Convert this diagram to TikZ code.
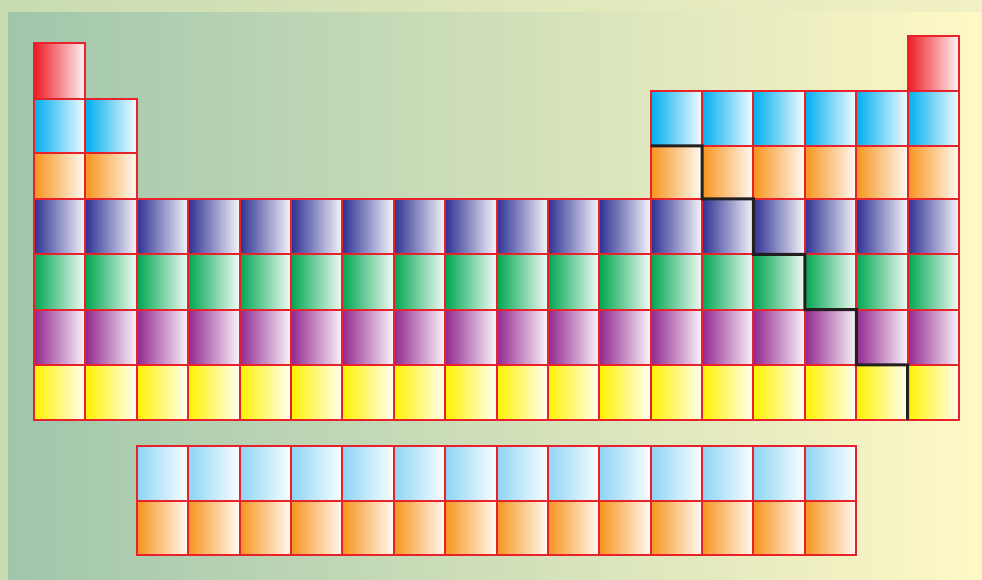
\documentclass[tikz,border=0pt]{standalone}
\usepackage{tikz}
\definecolor{frameleft}{HTML}{C8DBB0}
\definecolor{framemid}{HTML}{D8E3B6}
\definecolor{frameright}{HTML}{F2F1C4}
\definecolor{bgleft}{HTML}{A0C6AC}
\definecolor{bgmid}{HTML}{B8D3B2}
\definecolor{bgright}{HTML}{FFF8C6}
\definecolor{gridred}{HTML}{E8212B}
\definecolor{borderblack}{HTML}{231F20}
\definecolor{hydrogen}{HTML}{ED1C24}
\definecolor{periodtwo}{HTML}{00AEEF}
\definecolor{periodthree}{HTML}{F7941D}
\definecolor{periodfour}{HTML}{2E3192}
\definecolor{periodfive}{HTML}{00A651}
\definecolor{periodsix}{HTML}{92278F}
\definecolor{periodseven}{HTML}{FFF200}
\definecolor{lanthanide}{HTML}{8DD5F5}
\definecolor{actinide}{HTML}{F7941D}

\begin{document}
\begin{tikzpicture}[
    x=1pt, y=-1pt,
    cell/.style={draw=gridred, line width=2pt, left color=#1, middle color=#1!58!white, right color=#1!4!white},
    metalline/.style={draw=borderblack, line width=3pt, line join=miter}
]
    \useasboundingbox (0,0) rectangle (982,580);
    % background
    \shade[left color=frameleft, middle color=framemid, right color=frameright] (0,0) rectangle (982,580);
    \shade[left color=bgleft, middle color=bgmid, right color=bgright] (8,13) rectangle (982,580);

    % periods 1-3
    \draw[cell=hydrogen] (34,43) rectangle (85.39,99);
    \draw[cell=hydrogen] (907.6,36) rectangle (959,91);
    \foreach \c in {1,2} {
        \draw[cell=periodtwo] ({34+(\c-1)*51.39},99) rectangle ++(51.39,54);
        \draw[cell=periodthree] ({34+(\c-1)*51.39},153) rectangle ++(51.39,46);
    }
    \foreach \c in {13,...,18} {
        \draw[cell=periodtwo] ({34+(\c-1)*51.39},91) rectangle ++(51.39,55);
        \draw[cell=periodthree] ({34+(\c-1)*51.39},146) rectangle ++(51.39,53);
    }

    % periods 4-7
    \foreach \r/\col in {0/periodfour,1/periodfive,2/periodsix,3/periodseven} {
        \foreach \c in {1,...,18} {
            \draw[cell=\col] ({34+(\c-1)*51.39},{199+\r*55.25}) rectangle ++(51.39,55.25);
        }
    }

    % lanthanides and actinides
    \foreach \c in {3,...,16} {
        \draw[cell=lanthanide] ({34+(\c-1)*51.39},446) rectangle ++(51.39,54.5);
        \draw[cell=actinide] ({34+(\c-1)*51.39},500.5) rectangle ++(51.39,54.5);
    }

    % metal / non-metal border
    \coordinate (step0) at (650.7,146);
    \coordinate (step5) at (907.6,420);
    \draw[metalline] (step0) -- ++(51.39,0) -- ++(0,53) -- ++(51.39,0) -- ++(0,55.25)
        -- ++(51.39,0) -- ++(0,55.25) -- ++(51.39,0) -- ++(0,55.25) -- ++(51.39,0) -- (step5);
\end{tikzpicture}
\end{document}
